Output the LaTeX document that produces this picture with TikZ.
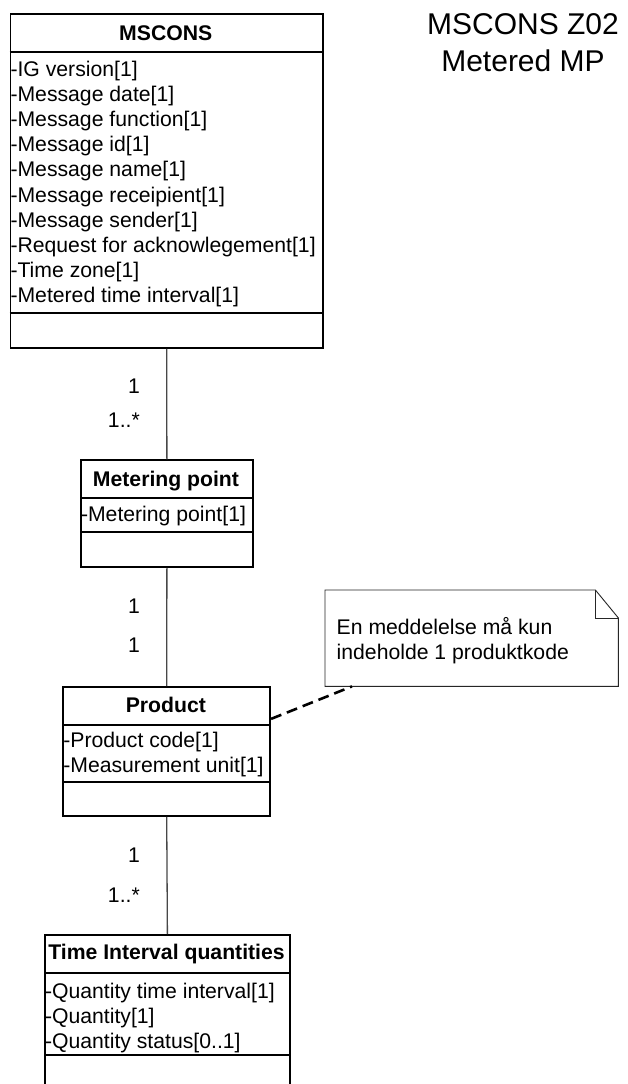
\documentclass[tikz,border=0pt]{standalone}
\usepackage{fontspec}
\setmainfont{Liberation Sans}
\newcommand\bodyfont{\fontsize{21.2}{25.2}\selectfont}
\newcommand\titlefont{\fontsize{30}{36}\selectfont}
\begin{document}
\begin{tikzpicture}[x=1pt,y=-1pt,
  umlbox/.style={draw=black, line width=1.8pt, inner sep=0pt, anchor=north west, fill=white},
  divider/.style={draw=black, line width=1.8pt},
  hdr/.style={anchor=base, inner sep=0pt, font=\bfseries\bodyfont},
  attr/.style={anchor=base west, inner sep=0pt, font=\bodyfont},
  mult/.style={anchor=base east, inner sep=0pt, font=\bodyfont},
  assoc/.style={draw=black!72, line width=1.3pt},
  noteline/.style={draw=black!85, line width=0.9pt},
  anchorline/.style={draw=black, line width=2.6pt, dash pattern=on 11pt off 6pt},
  title/.style={anchor=base, inner sep=0pt, font=\titlefont}]
\clip (0,0) rectangle (628,1084);
\fill[white] (0,0) rectangle (628,1084);

% title
\node[title] (t1) at (523,34.5) {MSCONS Z02};
\node[title] (t2) at (523,71) {Metered MP};

% MSCONS class
\node[umlbox, minimum width=312.5pt, minimum height=334.3pt] (mscons) at (9.5,12.7) {};
\node[hdr] (mscons-h) at (165.75,40) {MSCONS};
\draw[divider] (9.5,52) -- (322,52);
\draw[divider] (9.5,313) -- (322,313);
\foreach \t [count=\i] in {-IG version[1],-Message date[1],-Message function[1],-Message id[1],-Message name[1],-Message receipient[1],-Message sender[1],-Request for acknowlegement[1],-Time zone[1],-Metered time interval[1]}
  \node[attr] (mscons-a\i) at (10.3,{76+(\i-1)*25.2}) {\t};

% Metering point class
\node[umlbox, minimum width=172pt, minimum height=106.7pt] (mp) at (80,459.3) {};
\node[hdr] (mp-h) at (166,486.5) {Metering point};
\draw[divider] (80,498.3) -- (252,498.3);
\draw[divider] (80,532) -- (252,532);
\node[attr] (mp-a1) at (80.8,521.7) {-Metering point[1]};

% Product class
\node[umlbox, minimum width=207pt, minimum height=129pt] (prod) at (62.3,686) {};
\node[hdr] (prod-h) at (165.8,712.5) {Product};
\draw[divider] (62.3,725) -- (269.3,725);
\draw[divider] (62.3,781.7) -- (269.3,781.7);
\node[attr] (prod-a1) at (63.1,747.5) {-Product code[1]};
\node[attr] (prod-a2) at (63.1,772.7) {-Measurement unit[1]};

% Time Interval quantities class
\node[umlbox, minimum width=245pt, minimum height=180pt] (tiq) at (44,934) {};
\node[hdr] (tiq-h) at (166.5,959) {Time Interval quantities};
\draw[divider] (44,972.7) -- (289,972.7);
\draw[divider] (44,1055) -- (289,1055);
\node[attr] (tiq-a1) at (44.8,998.5) {-Quantity time interval[1]};
\node[attr] (tiq-a2) at (44.8,1023.7) {-Quantity[1]};
\node[attr] (tiq-a3) at (44.8,1048.9) {-Quantity status[0..1]};

% associations
\draw[assoc] (mscons.south) -- (mp.north);
\draw[assoc] (mp.south) -- (prod.north);
\draw[assoc] (prod.south) -- (tiq.north);

% multiplicities
\node[mult] (m1a) at (140,393.5) {1};
\node[mult] (m1b) at (140,427) {1..*};
\node[mult] (m2a) at (140,613.5) {1};
\node[mult] (m2b) at (140,652.5) {1};
\node[mult] (m3a) at (140,862.5) {1};
\node[mult] (m3b) at (140,902) {1..*};

% note with folded corner
\node[inner sep=0pt, minimum width=293pt, minimum height=96pt, anchor=north west] (note) at (325,590) {};
\fill[white] (note.north west) -- ([xshift=-23pt]note.north east) -- ([yshift=-28pt]note.north east)
  -- (note.south east) -- (note.south west) -- cycle;
\draw[noteline] (note.north west) -- ([xshift=-23pt]note.north east) -- ([yshift=-28pt]note.north east)
  -- (note.south east) -- (note.south west) -- cycle;
\draw[noteline] ([xshift=-23pt]note.north east) -- ([xshift=-23pt,yshift=-28pt]note.north east)
  -- ([yshift=-28pt]note.north east);
\node[attr] (note-l1) at (336.5,634) {En meddelelse må kun};
\node[attr] (note-l2) at (336.5,659) {indeholde 1 produktkode};

% note anchor
\draw[anchorline] ([yshift=32.5pt]prod.east) -- ([xshift=27pt]note.south west);
\end{tikzpicture}
\end{document}
